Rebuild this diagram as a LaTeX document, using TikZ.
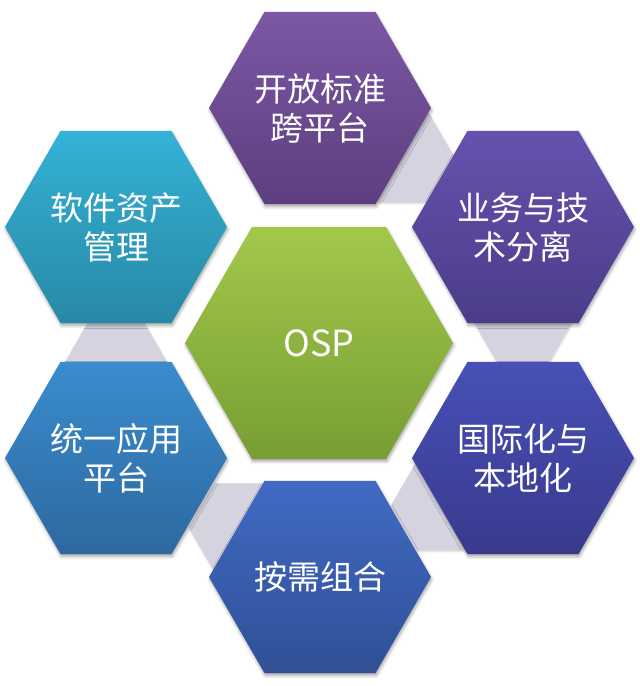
\documentclass[tikz,border=0pt]{standalone}
\usepackage{fontspec}
\setmainfont{Noto Sans CJK SC}
\usetikzlibrary{shapes.geometric,shadows.blur}
\definecolor{pTop}{HTML}{7B58A5}\definecolor{pBot}{HTML}{5D3E7E}
\definecolor{urTop}{HTML}{6652AE}\definecolor{urBot}{HTML}{4B3C8A}
\definecolor{lrTop}{HTML}{4850B7}\definecolor{lrBot}{HTML}{383A8C}
\definecolor{bTop}{HTML}{406AC4}\definecolor{bBot}{HTML}{305096}
\definecolor{llTop}{HTML}{3A8CCE}\definecolor{llBot}{HTML}{2D69A0}
\definecolor{ulTop}{HTML}{34B2D6}\definecolor{ulBot}{HTML}{2888A6}
\definecolor{cTop}{HTML}{A2C84B}\definecolor{cBot}{HTML}{789E34}
\definecolor{linkgray}{HTML}{D6D3E1}
\begin{document}
\begin{tikzpicture}[x=1pt,y=-1pt,
  hexshape/.style={regular polygon, regular polygon sides=6, inner sep=0pt, draw=none},
  hexshadow/.style={blur shadow={shadow xshift=0.8pt, shadow yshift=-2.5pt, shadow blur radius=3pt, shadow opacity=35}},
  outerhex/.style={hexshape, hexshadow, minimum size=222pt, text=white, align=center,
    font=\fontsize{33}{39}\selectfont},
  centerhex/.style={hexshape, hexshadow, minimum size=268pt, text=white,
    font=\fontsize{36}{42}\selectfont},
  linkhex/.style={hexshape, minimum size=102pt, fill=linkgray,
    blur shadow={shadow xshift=0.5pt, shadow yshift=-1.5pt, shadow blur radius=2pt, shadow opacity=20}}
]
\useasboundingbox (0,0) rectangle (640,686);
% connecting hexagons
\node[linkhex] (g1) at (403.5,157.5) {};
\node[linkhex] (g2) at (523,318.5) {};
\node[linkhex] (g3) at (442,505.5) {};
\node[linkhex] (g4) at (240,527.5) {};
\node[linkhex] (g5) at (116,362) {};
% outer hexagons
\node[outerhex, top color=pTop, bottom color=pBot] (h1) at (320,108) {开放标准\\跨平台};
\node[outerhex, top color=urTop, bottom color=urBot] (h2) at (523,227) {业务与技\\术分离};
\node[outerhex, top color=lrTop, bottom color=lrBot] (h3) at (523,458) {国际化与\\本地化};
\node[outerhex, top color=bTop, bottom color=bBot] (h4) at (320,577) {按需组合};
\node[outerhex, top color=llTop, bottom color=llBot] (h5) at (116,458) {统一应用\\平台};
\node[outerhex, top color=ulTop, bottom color=ulBot] (h6) at (116,227) {软件资产\\管理};
% center
\node[centerhex, top color=cTop, bottom color=cBot] (c) at (319,343) {OSP};
\end{tikzpicture}
\end{document}
